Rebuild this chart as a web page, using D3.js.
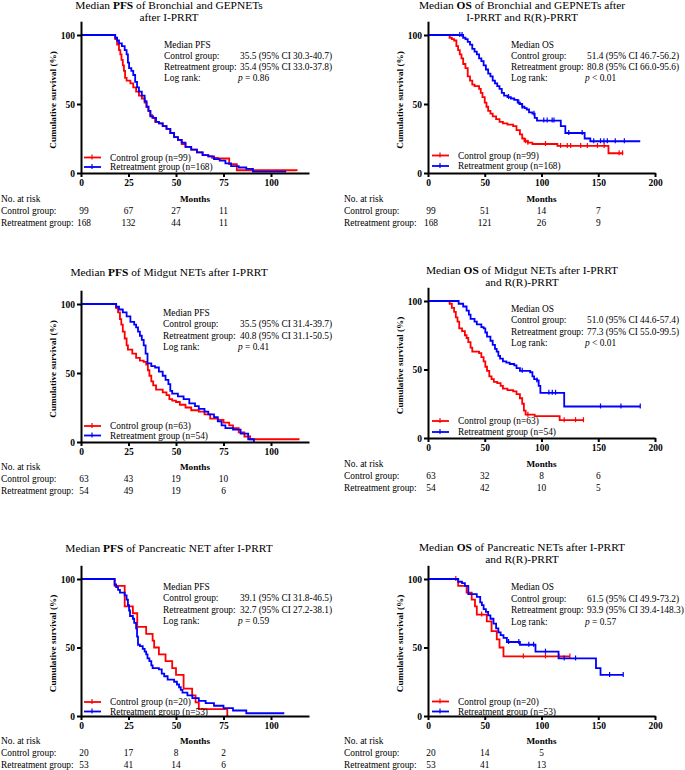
<!DOCTYPE html>
<html><head><meta charset="utf-8">
<script src="https://cdn.jsdelivr.net/npm/d3@7"></script>
<style>
body{margin:0;background:#fff}
svg{display:block}
text{font-family:"Liberation Serif","Times New Roman",serif;fill:#000}
</style>
</head><body>
<svg id="chart" width="685" height="770"></svg>
<script>
// ---------------- DATA ----------------
const yTickValues = [0, 50, 100];
const xTicksPFS = [0, 25, 50, 75, 100];
const xTicksOS = [0, 50, 100, 150, 200];
const riskTicksPFS = [0, 25, 50, 75];
const riskTicksOS = [0, 50, 100, 150];

// Panel 1: PFS Bronchial and GEPNETs
const p1Control = [[0,100],[18,97],[19,93],[20,89],[20.7,86],[21.3,82],[22,78],[22.6,74],[23.2,69],[24,67],[26,65],[27.5,62],[29,59],[30.5,56],[32,54],[33.5,51],[34.5,48],[35.5,45],[36.5,42],[37.5,40],[39,37],[41,36],[43,34],[45,32],[47,29],[49,26],[51,24],[53,21],[55,19],[58,17],[61,15],[64,13],[67,12],[69,11],[72,10.5],[78,6.5],[82,2],[113.5,1.5]];
const p1Retreat = [[0,100],[18,98],[19,96],[20,94],[21.5,92],[23,89],[24,86],[24.7,80],[25.3,76],[26.5,74],[27.5,71],[28.5,66],[29.5,62],[30.5,59],[32,56],[33.5,52],[34.5,48],[35.5,45],[36.5,41],[38,40],[39.5,37],[41,36],[43,34],[45,32],[47,29],[49,26],[51,24],[53,22],[55,19],[58,17],[61,15],[64,13],[67,12],[70,10],[73,9],[76,7],[79,5],[83,4],[87,3],[90.5,1],[108,1]];
const p1ControlCensor = [];
const p1RetreatCensor = [];

// Panel 2: OS Bronchial and GEPNETs
const p2Control = [[0,100],[19,98],[21,97],[23,96],[25,92],[26.5,89],[28,86],[29.5,83],[31,79],[33,76],[35,70],[37,67],[39,64],[41,63],[45,61],[46.5,58],[48,55],[50,51],[51.5,48],[53,45],[55,43],[57,41],[60,39],[63,37],[66,36],[70,35],[75,34],[78,31],[81,28],[83,25],[85,23],[88,22],[92,21],[114,19.6],[159,14.3],[172,14.3]];
const p2Retreat = [[0,100],[31,98],[33,97],[35,95],[37,93],[39,90],[41,88],[43,86],[45,83],[47,81],[49,78],[51,75],[53,72],[55,70],[57,67],[59,65],[61,63],[63,61],[65,58],[67,56],[70,55],[73,54],[76,53],[79,51],[81,50],[83,48],[85,47],[87,46],[89,44],[92,43],[94,40],[96,38],[117,34],[121,29],[138,25],[143,23],[187,23]];
const p2ControlCensor = [86,88,103.5,116.8,122.7,125.7,134.5,140.4,149.3,155.2,168.4,171.4];
const p2RetreatCensor = [28,30,71,80,83,93.4,102,105,109.4,111,124,135.8,146,152,155,158,165,173];

// Panel 3: PFS Midgut NETs
const p3Control = [[0,100],[18.5,97],[19.5,94],[20.5,89],[21.2,85],[22,80],[23,75],[24,70],[24.7,67],[27,64],[29,61],[31,59],[33,58],[34.3,56],[35.2,52],[36,48],[37,44],[38,41],[39.5,38],[43,36],[45,34],[46.5,31],[48,30],[50,29],[52,27],[55,25],[58,23],[62,22],[65,20],[68,17],[72,16],[75,14],[78,12],[80,10],[83,7],[86,4],[89,2],[115,2]];
const p3Retreat = [[0,100],[18.5,98],[20,96],[22,94],[24,91],[26,87],[28,85],[29,83],[30,80],[31,77],[32,74],[33,70],[34,64],[35,57],[37,55],[39,54],[41,51],[43,48],[44.5,45],[46,42],[47,37],[48,35],[51,33],[54,31],[57,28],[60,26],[62,24],[65,22],[67,20],[70,18],[72,15],[74,12],[76,10],[80,9],[84,6],[88,2],[91,0]];
const p3ControlCensor = [];
const p3RetreatCensor = [];

// Panel 4: OS Midgut NETs
const p4Control = [[0,100],[19,98],[21,95],[23,92],[24.5,88],[26,85],[27.5,80],[30,78],[32.5,75],[34,73],[35.5,70],[37.5,66],[39,63],[45,62],[47,59],[49,56],[50.5,52],[52,49],[54,45],[56,43],[58,41],[61,40],[64,38],[66,36],[70,35],[75,34],[78,32],[81,29],[83,25],[84.5,20],[86,17],[94,16],[116,13],[137,13]];
const p4Retreat = [[0,100],[27,98],[31,96],[34,93],[36,90],[37.5,87],[41,85],[43,83],[47,81],[49,80],[50.5,77],[52,74],[55,71],[57,68],[59,65],[60.5,63],[62,60],[63.5,58],[66,56],[69,55],[72,54],[76,53],[78,51],[81,49],[90,48],[92,45],[93.5,43],[96,42],[97.5,38],[99,33],[120,23],[187,23]];
const p4ControlCensor = [88,120,130,137];
const p4RetreatCensor = [83,96,106.5,109.5,112.4,152,170,187];

// Panel 5: PFS Pancreatic NET
const p5Control = [[0,100],[17.7,95],[23,80],[27.3,75],[29.6,65],[34.3,60],[37.7,55],[38.5,50],[41,45],[44.5,40],[48,35],[50,30],[54,20],[58.5,15],[60.3,10],[62,5],[77,0]];
const p5Retreat = [[0,100],[17.7,96],[18.5,94],[19.5,92],[20.5,90],[23,88],[24,85],[24.7,81],[25.3,77],[25.8,73],[27.3,71],[28,68],[29,64],[29.5,58],[30,52],[31,51],[32.5,49],[33.5,47],[34.3,45],[35,42],[36,40],[37,37],[37.7,35],[41,34],[42.5,31],[43.8,29],[45.6,26.5],[49,25],[50.5,23],[51.6,21],[52.5,19],[53.4,17],[56,15],[58.6,13],[62,11],[65.6,9.4],[70,7.5],[75,5.7],[80,4],[87,2],[107,2]];
const p5ControlCensor = [];
const p5RetreatCensor = [];

// Panel 6: OS Pancreatic NETs
const p6Control = [[0,100],[26.6,95],[34,90],[38.5,85],[41.4,80],[43,74],[51.8,69],[56,62],[60.6,56],[63,50],[66.5,43.5],[125,43.5]];
const p6Retreat = [[0,100],[26.6,98],[30,97],[32.5,95],[35.5,89],[43,87],[46,83],[47.5,81],[49,78],[51,76],[53,73.5],[55,71],[57.7,67.5],[60,64],[62,61],[64,59],[66.5,57],[69.5,54],[81,52],[94.7,47],[115,42],[148,35],[152,30],[172,30]];
const p6ControlCensor = [24.5,47.3,84,103.5,115.4,125];
const p6RetreatCensor = [71,80,88.8,93,103.5,120,130,160,172];

// Texts
const legendControl = ["Control group (n=99)", "Control group (n=99)", "Control group (n=63)", "Control group (n=63)", "Control group (n=20)", "Control group (n=20)"];
const legendRetreat = ["Retreatment group (n=168)", "Retreatment group (n=168)", "Retreatment group (n=54)", "Retreatment group (n=54)", "Retreatment group (n=53)", "Retreatment group (n=53)"];
const medianHeads = ["Median PFS", "Median OS", "Median PFS", "Median OS", "Median PFS", "Median OS"];
const medianControl = ["35.5 (95% CI 30.3-40.7)", "51.4 (95% CI 46.7-56.2)", "35.5 (95% CI 31.4-39.7)", "51.0 (95% CI 44.6-57.4)", "39.1 (95% CI 31.8-46.5)", "61.5 (95% CI 49.9-73.2)"];
const medianRetreat = ["35.4 (95% CI 33.0-37.8)", "80.8 (95% CI 66.0-95.6)", "40.8 (95% CI 31.1-50.5)", "77.3 (95% CI 55.0-99.5)", "32.7 (95% CI 27.2-38.1)", "93.9 (95% CI 39.4-148.3)"];
const logRankP = ["= 0.86", "< 0.01", "= 0.41", "< 0.01", "= 0.59", "= 0.57"];
const riskControl = [[99,67,27,11],[99,51,14,7],[63,43,19,10],[63,32,8,6],[20,17,8,2],[20,14,5]];
const riskRetreat = [[168,132,44,11],[168,121,26,9],[54,49,19,6],[54,42,10,5],[53,41,14,6],[53,41,13]];
const titles = [
  [[["Median ",0],["PFS",1],[" of Bronchial and GEPNETs",0]],[["after I-PRRT",0]]],
  [[["Median ",0],["OS",1],[" of Bronchial and GEPNETs after",0]],[["I-PRRT and R(R)-PRRT",0]]],
  [[["Median ",0],["PFS",1],[" of Midgut NETs after I-PRRT",0]]],
  [[["Median ",0],["OS",1],[" of Midgut NETs after I-PRRT",0]],[["and R(R)-PRRT",0]]],
  [[["Median ",0],["PFS",1],[" of Pancreatic NET after I-PRRT",0]]],
  [[["Median ",0],["OS",1],[" of Pancreatic NETs after I-PRRT",0]],[["and R(R)-PRRT",0]]]
];

const controlCurves = [p1Control,p2Control,p3Control,p4Control,p5Control,p6Control];
const retreatCurves = [p1Retreat,p2Retreat,p3Retreat,p4Retreat,p5Retreat,p6Retreat];
const controlCensors = [p1ControlCensor,p2ControlCensor,p3ControlCensor,p4ControlCensor,p5ControlCensor,p6ControlCensor];
const retreatCensors = [p1RetreatCensor,p2RetreatCensor,p3RetreatCensor,p4RetreatCensor,p5RetreatCensor,p6RetreatCensor];

// ---------------- LAYOUT ----------------
const RED = "#ff0000", BLUE = "#0000ff";
const layout = [
  {xL:81, xR:309, xMax:120, y0:173, y100:35, titleX:169, titleY:[5,16.5], annX:164, valX:240, annY:[45,56,67,78], legY:[157.5,167], legX:84, riskLeft:1, riskY:[199,211,223]},
  {xL:428, xR:655, xMax:200, y0:173, y100:35, titleX:522, titleY:[5,16.5], annX:511, valX:587, annY:[45,56,67,78], legY:[155.5,166], legX:432, riskLeft:344, riskY:[199,211,223]},
  {xL:81, xR:309, xMax:120, y0:442, y100:304, titleX:169, titleY:[272], annX:163, valX:240, annY:[313,324,336,347], legY:[426,435.5], legX:84, riskLeft:1, riskY:[467,479,491]},
  {xL:428, xR:655, xMax:200, y0:438, y100:301, titleX:522, titleY:[270,282], annX:511, valX:587, annY:[309,320,332,343], legY:[421,432], legX:432, riskLeft:344, riskY:[464,476,488]},
  {xL:81, xR:309, xMax:120, y0:716, y100:579, titleX:169, titleY:[548], annX:163, valX:240, annY:[587,598,610,621], legY:[702,711.5], legX:84, riskLeft:1, riskY:[741,753,765]},
  {xL:428, xR:655, xMax:200, y0:716, y100:579, titleX:522, titleY:[547,559], annX:511, valX:587, annY:[587,599,610,622], legY:[701.5,711.5], legX:432, riskLeft:344, riskY:[741,753,765]}
];

const svg = d3.select("#chart");

function levelAt(curve, t) {
  let s = curve[0][1];
  for (const d of curve) { if (d[0] <= t) s = d[1]; else break; }
  return s;
}

layout.forEach((L, i) => {
  const g = svg.append("g");
  const k = (L.y0 - L.y100) / 100;
  const x = d3.scaleLinear().domain([0, L.xMax]).range([L.xL, L.xR]);
  const y = d3.scaleLinear().domain([0, 110]).range([L.y0, L.y0 - 110 * k]);
  const xt = L.xMax === 120 ? xTicksPFS : xTicksOS;
  const rt = L.xMax === 120 ? riskTicksPFS : riskTicksOS;

  // title
  titles[i].forEach((line, li) => {
    const t = g.append("text").attr("x", L.titleX).attr("y", L.titleY[li])
      .attr("text-anchor", "middle").attr("dominant-baseline", "central")
      .style("font-size", "11.4px");
    line.forEach(seg => t.append("tspan").text(seg[0]).style("font-weight", seg[1] ? "bold" : "normal"));
  });

  // curves
  const line = d3.line().x(d => x(d[0])).y(d => y(d[1])).curve(d3.curveStepAfter);
  [[controlCurves[i], controlCensors[i], RED], [retreatCurves[i], retreatCensors[i], BLUE]].forEach(([c, cens, col]) => {
    g.append("path").datum(c).attr("d", line).attr("fill", "none").attr("stroke", col).attr("stroke-width", 1.8);
    g.selectAll(null).data(cens).enter().append("line")
      .attr("x1", d => x(d)).attr("x2", d => x(d))
      .attr("y1", d => y(levelAt(c, d)) - 3).attr("y2", d => y(levelAt(c, d)) + 2)
      .attr("stroke", col).attr("stroke-width", 1.2);
  });

  // axes
  const ax = d3.axisBottom(x).tickValues(xt).tickSize(4).tickSizeOuter(0).tickPadding(2);
  const ay = d3.axisLeft(y).tickValues(yTickValues).tickSize(4).tickSizeOuter(0).tickPadding(2);
  const gx = g.append("g").attr("transform", `translate(0,${L.y0})`).call(ax);
  const gy = g.append("g").attr("transform", `translate(${L.xL},0)`).call(ay);
  [gx, gy].forEach(a => {
    a.select(".domain").attr("stroke", "#000").attr("stroke-width", 2);
    a.selectAll(".tick line").attr("stroke", "#000").attr("stroke-width", 2);
    a.selectAll(".tick text").style("font-family", '"Liberation Serif","Times New Roman",serif')
      .style("font-size", "9.5px").style("font-weight", "bold");
  });

  // y label
  g.append("text").attr("transform", `translate(${L.xL - 28},${(L.y0 + L.y100) / 2 - 4}) rotate(-90)`)
    .attr("text-anchor", "middle").attr("dominant-baseline", "central")
    .style("font-size", "9.2px").style("font-weight", "bold").text("Cumulative survival (%)");

  // annotation
  const fs = "9.4px";
  const heads = [medianHeads[i], "Control group:", "Retreatment group:", "Log rank:"];
  heads.forEach((h, j) => g.append("text").attr("x", L.annX).attr("y", L.annY[j])
    .attr("dominant-baseline", "central").style("font-size", fs).text(h));
  g.append("text").attr("x", L.valX).attr("y", L.annY[1]).attr("dominant-baseline", "central").style("font-size", fs).text(medianControl[i]);
  g.append("text").attr("x", L.valX).attr("y", L.annY[2]).attr("dominant-baseline", "central").style("font-size", fs).text(medianRetreat[i]);
  const pt = g.append("text").attr("x", L.valX - 2).attr("y", L.annY[3]).attr("dominant-baseline", "central").style("font-size", fs);
  pt.append("tspan").style("font-style", "italic").text("p");
  pt.append("tspan").text(" " + logRankP[i]);

  // legend
  [[legendControl[i], RED], [legendRetreat[i], BLUE]].forEach(([txt, col], j) => {
    const ly = L.legY[j];
    g.append("line").attr("x1", L.legX).attr("x2", L.legX + 17).attr("y1", ly).attr("y2", ly).attr("stroke", col).attr("stroke-width", 1.8);
    g.append("line").attr("x1", L.legX + 8).attr("x2", L.legX + 8).attr("y1", ly - 3).attr("y2", ly + 2).attr("stroke", col).attr("stroke-width", 1.2);
    g.append("text").attr("x", L.legX + 26).attr("y", ly).attr("dominant-baseline", "central").style("font-size", "9.4px").text(txt);
  });

  // months label
  g.append("text").attr("x", (L.xL + L.xR) / 2).attr("y", L.riskY[0]).attr("text-anchor", "middle")
    .attr("dominant-baseline", "central").style("font-size", "9.2px").style("font-weight", "bold").text("Months");

  // risk table
  ["No. at risk", "Control group:", "Retreatment group:"].forEach((h, j) => g.append("text").attr("x", L.riskLeft).attr("y", L.riskY[j])
    .attr("dominant-baseline", "central").style("font-size", "9.4px").text(h));
  [riskControl[i], riskRetreat[i]].forEach((row, j) => {
    g.selectAll(null).data(row).enter().append("text")
      .attr("x", (d, m) => x(rt[m]) + (m === 0 ? 3 : 0)).attr("y", L.riskY[j + 1])
      .attr("text-anchor", "middle").attr("dominant-baseline", "central").style("font-size", "9.4px").text(d => d);
  });
});
</script>
</body></html>
